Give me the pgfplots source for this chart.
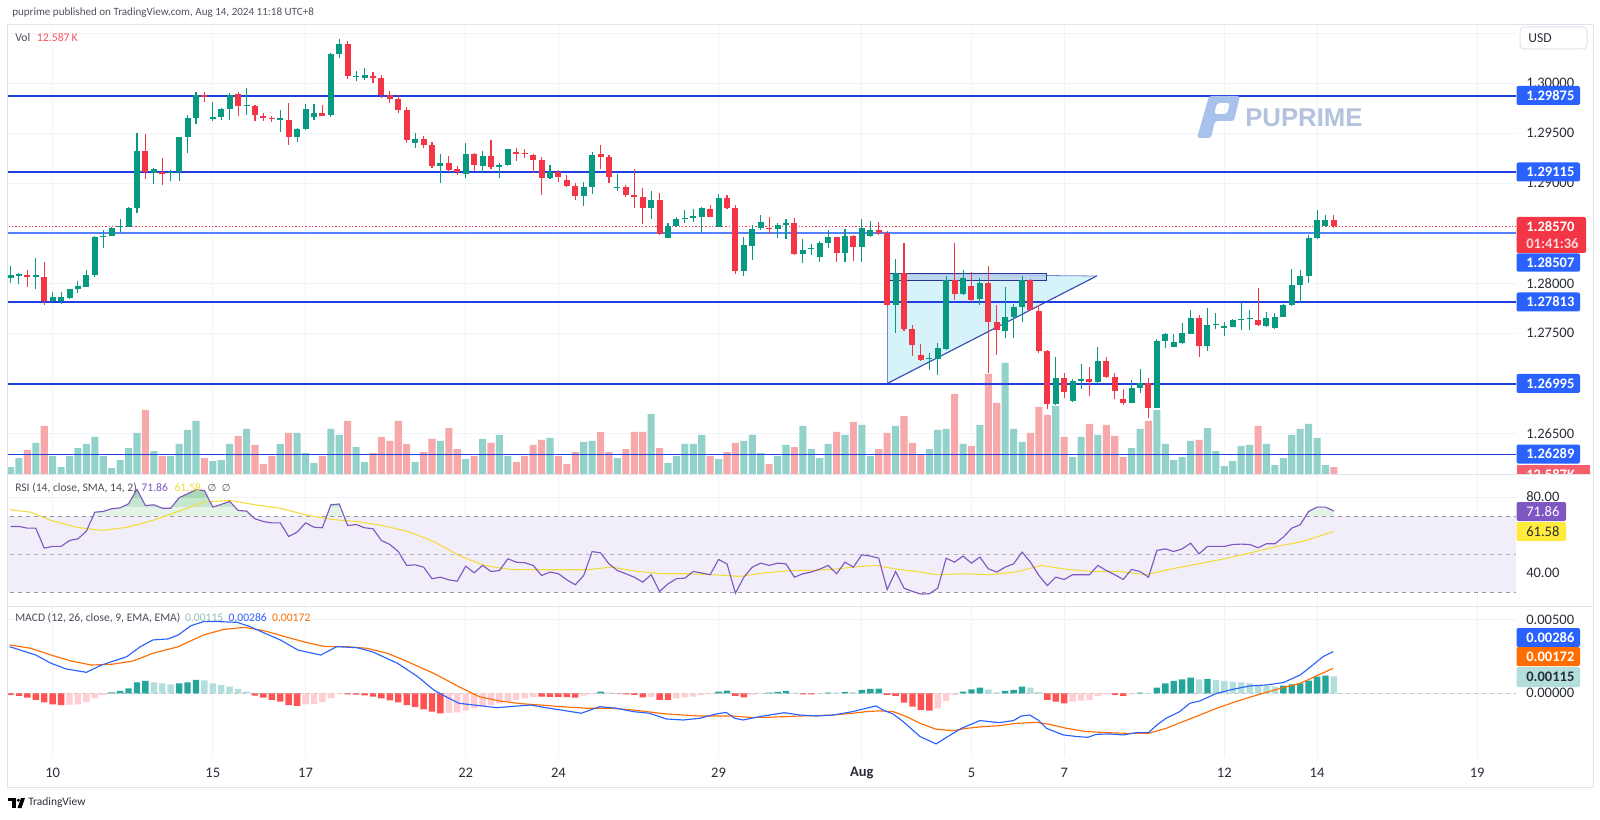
\documentclass[border=0pt]{standalone}
\usepackage{fontspec}
\setmainfont{Carlito}
\newfontfamily\djv{DejaVu Sans}
\newfontfamily\lsans{Liberation Sans}
\usepackage{pgfplots}
\usepackage{pgfplotstable}
\pgfplotsset{compat=1.18}
\newcommand\fs[1]{\fontsize{#1}{#1}\selectfont}

\definecolor{tvgreen}{HTML}{089981}
\definecolor{tvred}{HTML}{F23645}
\definecolor{volg}{HTML}{92D2CA}
\definecolor{volr}{HTML}{F7A8AA}
\definecolor{lvl}{HTML}{1F3FE0}
\definecolor{lblue}{HTML}{2962FF}
\definecolor{gridc}{HTML}{F0F3FA}
\definecolor{framec}{HTML}{E0E3EB}
\definecolor{axc}{HTML}{2A2E39}
\definecolor{legc}{HTML}{4A4E59}
\definecolor{hdrc}{HTML}{50535E}
\definecolor{rsic}{HTML}{7E57C2}
\definecolor{rsiband}{HTML}{F2EEF9}
\definecolor{rsima}{HTML}{F2DC3A}
\definecolor{rsiylw}{HTML}{FFEB3B}
\definecolor{dashc}{HTML}{9598A1}
\definecolor{macdb}{HTML}{2962FF}
\definecolor{macdo}{HTML}{FF6D00}
\definecolor{hg}{HTML}{26A69A}
\definecolor{hl}{HTML}{B2DFDB}
\definecolor{hr}{HTML}{FF5252}
\definecolor{hp}{HTML}{FFCDD2}
\definecolor{tric}{HTML}{D5F3F8}
\definecolor{trie}{HTML}{3F51B5}
\definecolor{rectc}{HTML}{B6CFF0}
\definecolor{rectb}{HTML}{283593}
\definecolor{wm}{HTML}{B3C3DD}
\definecolor{wmlogo}{HTML}{A9C2EC}
\definecolor{ob1}{HTML}{E3F3E7}
\definecolor{ob2}{HTML}{C6E7CF}
\definecolor{ob3}{HTML}{A6D9B4}
\definecolor{volredtxt}{HTML}{F7525F}

% candles: k open high low close
\pgfplotstableread{
k o h l c
-24 1.28050 1.28173 1.28007 1.28083
-23 1.28077 1.28100 1.27993 1.28080
-21 1.28067 1.28250 1.27940 1.28070
-19 1.27827 1.27910 1.27817 1.27867
-18 1.27827 1.27910 1.27793 1.27867
-17 1.27857 1.27947 1.27847 1.27947
-16 1.27943 1.28023 1.27900 1.27973
-15 1.27967 1.28133 1.27960 1.28083
-14 1.28083 1.28473 1.28067 1.28467
-13 1.28460 1.28533 1.28350 1.28477
-12 1.28477 1.28567 1.28473 1.28553
-11 1.28560 1.28643 1.28517 1.28570
-10 1.28567 1.28767 1.28560 1.28757
-9 1.28757 1.29500 1.28700 1.29323
-7 1.29107 1.29153 1.28993 1.29140
-5 1.29100 1.29133 1.29027 1.29117
-4 1.29117 1.29467 1.29027 1.29467
-3 1.29460 1.29683 1.29300 1.29657
-2 1.29653 1.29917 1.29590 1.29883
0 1.29647 1.29817 1.29627 1.29660
1 1.29660 1.29750 1.29633 1.29747
2 1.29747 1.29907 1.29633 1.29883
4 1.29773 1.29957 1.29683 1.29777
8 1.29637 1.29733 1.29517 1.29640
10 1.29467 1.29550 1.29417 1.29547
11 1.29547 1.29793 1.29533 1.29740
12 1.29660 1.29793 1.29633 1.29700
14 1.29680 1.30307 1.29660 1.30293
15 1.30293 1.30445 1.30250 1.30394
17 1.30060 1.30120 1.30020 1.30070
18 1.30050 1.30150 1.30030 1.30080
24 1.29400 1.29500 1.29357 1.29440
27 1.29177 1.29290 1.29007 1.29200
30 1.29090 1.29407 1.29050 1.29290
32 1.29177 1.29323 1.29100 1.29277
34 1.29167 1.29200 1.29057 1.29183
35 1.29183 1.29343 1.29177 1.29340
40 1.29057 1.29183 1.29043 1.29110
44 1.28877 1.29017 1.28777 1.28967
45 1.28967 1.29310 1.28893 1.29283
48 1.28950 1.29093 1.28927 1.28960
52 1.28750 1.28923 1.28640 1.28833
54 1.28457 1.28607 1.28450 1.28573
55 1.28573 1.28667 1.28560 1.28640
56 1.28643 1.28733 1.28600 1.28657
57 1.28657 1.28740 1.28617 1.28667
58 1.28667 1.28760 1.28500 1.28750
60 1.28567 1.28893 1.28560 1.28850
63 1.28127 1.28467 1.28073 1.28383
64 1.28377 1.28583 1.28233 1.28543
65 1.28550 1.28683 1.28533 1.28610
67 1.28540 1.28600 1.28450 1.28583
68 1.28583 1.28640 1.28443 1.28600
70 1.28290 1.28443 1.28200 1.28333
71 1.28340 1.28393 1.28283 1.28350
72 1.28260 1.28427 1.28217 1.28407
73 1.28407 1.28533 1.28357 1.28460
75 1.28300 1.28540 1.28217 1.28473
77 1.28360 1.28640 1.28217 1.28557
78 1.28473 1.28627 1.28467 1.28533
81 1.27783 1.28240 1.27500 1.28100
85 1.27240 1.27300 1.27133 1.27250
86 1.27240 1.27400 1.27083 1.27350
87 1.27343 1.28073 1.27333 1.28033
89 1.27890 1.28133 1.27883 1.28050
91 1.27840 1.28050 1.27783 1.28000
94 1.27527 1.27967 1.27450 1.27667
95 1.27667 1.27790 1.27450 1.27767
96 1.27767 1.28073 1.27610 1.28033
100 1.26790 1.27267 1.26783 1.27050
102 1.26827 1.27040 1.26817 1.27027
103 1.27027 1.27190 1.26943 1.27043
105 1.27017 1.27367 1.26993 1.27227
109 1.26807 1.27033 1.26800 1.26957
110 1.26957 1.27143 1.26907 1.27000
112 1.26757 1.27440 1.26750 1.27427
113 1.27427 1.27500 1.27350 1.27490
114 1.27367 1.27490 1.27360 1.27410
115 1.27400 1.27607 1.27393 1.27500
116 1.27493 1.27733 1.27490 1.27657
118 1.27377 1.27750 1.27323 1.27580
119 1.27583 1.27700 1.27540 1.27587
120 1.27550 1.27617 1.27473 1.27573
121 1.27567 1.27640 1.27567 1.27633
122 1.27633 1.27810 1.27533 1.27640
123 1.27640 1.27733 1.27533 1.27643
125 1.27577 1.27717 1.27567 1.27650
126 1.27550 1.27707 1.27543 1.27667
127 1.27667 1.27790 1.27660 1.27783
128 1.27783 1.28140 1.27773 1.27980
129 1.27980 1.28133 1.27800 1.28073
130 1.28073 1.28483 1.28000 1.28450
131 1.28450 1.28733 1.28443 1.28633
132 1.28573 1.28683 1.28560 1.28633
}\candUp
\pgfplotstableread{
k o h l c
-22 1.28083 1.28133 1.27967 1.28060
-20 1.28067 1.28217 1.27783 1.27827
-8 1.29323 1.29490 1.29043 1.29117
-6 1.29117 1.29250 1.28983 1.29097
-1 1.29877 1.29910 1.29817 1.29867
3 1.29890 1.29917 1.29673 1.29773
5 1.29773 1.29780 1.29627 1.29680
6 1.29673 1.29700 1.29627 1.29653
7 1.29657 1.29673 1.29617 1.29640
9 1.29633 1.29800 1.29383 1.29467
13 1.29700 1.29787 1.29673 1.29677
16 1.30394 1.30420 1.30040 1.30068
19 1.30070 1.30110 1.30000 1.30055
20 1.30050 1.30080 1.29850 1.29884
21 1.29884 1.29920 1.29800 1.29843
22 1.29843 1.29880 1.29700 1.29731
23 1.29731 1.29760 1.29407 1.29433
25 1.29443 1.29473 1.29350 1.29383
26 1.29383 1.29417 1.29157 1.29173
28 1.29200 1.29273 1.29117 1.29133
29 1.29140 1.29173 1.29083 1.29117
31 1.29290 1.29300 1.29123 1.29183
33 1.29277 1.29433 1.29143 1.29167
36 1.29313 1.29350 1.29227 1.29290
37 1.29295 1.29340 1.29250 1.29290
38 1.29283 1.29290 1.29107 1.29233
39 1.29233 1.29260 1.28883 1.29057
41 1.29110 1.29133 1.29017 1.29067
42 1.29033 1.29083 1.28967 1.28973
43 1.28973 1.29000 1.28833 1.28877
46 1.29290 1.29383 1.29140 1.29260
47 1.29260 1.29283 1.29007 1.29067
49 1.28967 1.28983 1.28860 1.28883
50 1.28883 1.29140 1.28750 1.28860
51 1.28860 1.28950 1.28593 1.28750
53 1.28833 1.28907 1.28483 1.28493
59 1.28743 1.28783 1.28667 1.28667
61 1.28850 1.28880 1.28740 1.28757
62 1.28757 1.28783 1.28090 1.28123
66 1.28550 1.28667 1.28490 1.28540
69 1.28600 1.28657 1.28283 1.28290
74 1.28460 1.28467 1.28217 1.28300
76 1.28473 1.28483 1.28227 1.28360
79 1.28533 1.28610 1.28483 1.28500
80 1.28507 1.28523 1.27773 1.27783
82 1.28100 1.28400 1.27527 1.27540
83 1.27540 1.27583 1.27273 1.27383
84 1.27283 1.27393 1.27227 1.27233
88 1.28033 1.28407 1.27833 1.27890
90 1.27973 1.28117 1.27810 1.27833
92 1.28000 1.28173 1.27100 1.27617
93 1.27617 1.27783 1.27283 1.27533
97 1.28033 1.28040 1.27727 1.27733
98 1.27727 1.27783 1.27307 1.27323
99 1.27323 1.27333 1.26740 1.26790
101 1.27050 1.27100 1.26850 1.26917
104 1.27043 1.27160 1.26877 1.27017
106 1.27227 1.27267 1.27057 1.27067
107 1.27067 1.27107 1.26840 1.26927
108 1.26840 1.26943 1.26783 1.26807
111 1.27000 1.27050 1.26657 1.26757
117 1.27657 1.27683 1.27267 1.27377
124 1.27633 1.27950 1.27573 1.27583
133 1.28633 1.28683 1.28553 1.28570
}\candDn

\pgfplotstableread{
k v
-24 7
-23 16
-21 31
-19 18
-18 7
-17 18
-16 26
-15 30
-14 37
-13 18
-12 6
-11 14
-10 26
-9 41
-7 23
-5 18
-4 30
-3 44
-2 53
0 13
1 14
2 30
4 45
8 30
10 41
11 21
12 11
14 45
15 39
17 27
18 12
24 12
27 33
30 15
32 35
34 39
35 18
40 36
44 32
45 33
48 16
52 60
54 11
55 18
56 30
57 30
58 39
60 15
63 33
64 39
65 21
67 18
68 29
70 48
71 25
72 16
73 30
75 39
77 49
78 18
81 48
85 25
86 44
87 45
89 30
91 49
94 111
95 45
96 32
100 68
102 17
103 37
105 39
109 26
110 45
112 64
113 30
114 14
115 17
116 33
118 46
119 23
120 8
121 13
122 28
123 29
125 30
126 9
127 16
128 39
129 45
130 50
131 36
132 9
}\volUp
\pgfplotstableread{
k v
-22 24
-20 48
-8 64
-6 18
-1 16
3 38
5 29
6 10
7 18
9 41
13 18
16 53
19 21
20 37
21 33
22 53
23 30
25 22
26 35
28 46
29 25
31 18
33 31
36 12
37 18
38 29
39 34
41 18
42 10
43 22
46 42
47 22
49 25
50 42
51 42
53 26
59 18
61 22
62 31
66 10
69 27
74 42
76 52
79 25
80 41
82 58
83 31
84 19
88 80
90 28
92 100
93 71
97 41
98 67
99 59
101 37
104 50
106 49
107 38
108 17
111 53
117 34
124 48
133 7
}\volDn

\pgfplotstableread{
k v
-24 64.5
-23 64.5
-22 63.6
-21 63.6
-20 53.1
-19 54.0
-18 54.0
-17 57.1
-16 58.0
-15 62.0
-14 72.0
-13 72.4
-12 73.8
-11 74.3
-10 76.4
-9 84.0
-8 75.5
-7 75.9
-6 74.1
-5 74.1
-4 79.6
-3 81.7
-2 83.8
-1 83.4
0 74.7
1 76.1
2 77.7
3 72.9
4 72.6
5 68.5
6 67.1
7 66.4
8 66.4
9 59.2
10 61.5
11 66.4
12 64.1
13 63.8
14 75.9
15 76.3
16 65.0
17 65.5
18 63.8
19 63.3
20 57.1
21 55.0
22 51.3
23 44.0
24 44.3
25 43.1
26 37.0
27 37.8
28 36.4
29 35.7
30 43.6
31 40.1
32 44.0
33 40.8
34 41.3
35 47.5
36 45.7
37 45.4
38 44.0
39 38.7
40 40.5
41 39.6
42 36.4
43 33.8
44 38.7
45 51.3
46 50.6
47 44.8
48 41.3
49 39.6
50 37.8
51 35.2
52 39.1
53 30.3
54 34.3
55 37.0
56 37.3
57 40.8
58 40.0
59 39.1
60 47.1
61 44.8
62 29.4
63 37.8
64 43.1
65 45.2
66 44.0
67 45.2
68 44.8
69 37.8
70 39.6
71 40.5
72 42.0
73 44.0
74 39.6
75 45.7
76 43.1
77 49.6
78 48.9
79 47.8
80 31.3
81 40.8
82 32.0
83 30.3
84 28.9
85 29.1
86 32.0
87 47.8
88 45.7
89 48.9
90 45.2
91 48.4
92 42.2
93 40.5
94 43.1
95 44.8
96 51.0
97 45.7
98 38.7
99 33.4
100 37.8
101 36.6
102 39.1
103 39.1
104 39.1
105 44.0
106 41.3
107 39.1
108 36.6
109 41.9
110 40.8
111 37.8
112 51.9
113 52.7
114 51.3
115 52.7
116 55.7
117 50.1
118 54.0
119 54.0
120 54.0
121 55.0
122 55.2
123 55.0
124 53.3
125 55.4
126 55.4
127 58.9
128 63.6
129 65.4
130 72.4
131 74.7
132 74.7
133 72.6
}\rsiT

\pgfplotstableread{
k v
-24.1 73.3
-21.6 72.0
-19.2 67.7
-16.2 64.1
-13.2 62.4
-10.1 64.1
-7.1 67.7
-4.1 72.4
-1.1 77.3
2.0 78.2
5.0 75.9
8.0 74.1
11.0 70.6
14.1 68.2
17.1 67.1
20.1 65.0
23.1 61.9
26.2 56.6
29.2 49.2
32.2 44.0
35.2 41.9
38.3 41.7
41.3 41.7
44.3 41.7
47.3 43.1
50.4 40.8
53.4 39.6
56.4 39.6
59.4 39.1
62.5 38.2
65.5 40.1
68.5 41.3
70.4 41.3
73.5 41.9
76.6 43.4
78.7 44.0
80.9 42.2
83.4 40.8
85.9 39.1
89.0 39.6
92.1 39.1
95.2 40.5
98.3 44.0
101.4 41.9
104.5 40.8
107.6 40.8
110.7 39.1
113.8 42.2
116.9 44.8
120.0 47.5
123.1 50.6
126.2 54.0
129.3 56.6
133.0 61.9
}\rsiMA

\pgfplotstableread{
k v
-24.1 0.00318
-21.0 0.00261
-19.2 0.00205
-17.4 0.00166
-15.0 0.00143
-13.2 0.00193
-10.2 0.00250
-8.6 0.00318
-7.1 0.00364
-5.3 0.00371
-4.1 0.00398
-2.6 0.00461
-1.1 0.00489
0.7 0.00489
2.9 0.00484
4.4 0.00455
6.2 0.00409
8.0 0.00364
10.1 0.00295
12.8 0.00261
14.7 0.00318
17.1 0.00311
18.9 0.00284
21.9 0.00205
24.3 0.00114
26.2 0.00023
28.0 -0.00034
29.2 -0.00068
31.0 -0.00080
33.7 -0.00098
35.2 -0.00091
37.7 -0.00080
39.5 -0.00098
41.3 -0.00114
43.7 -0.00136
45.9 -0.00091
47.9 -0.00102
49.9 -0.00125
51.8 -0.00136
53.8 -0.00175
55.8 -0.00182
57.8 -0.00170
59.7 -0.00141
60.9 -0.00130
61.9 -0.00170
62.9 -0.00182
64.9 -0.00159
67.8 -0.00132
69.6 -0.00148
71.6 -0.00155
73.6 -0.00148
75.9 -0.00125
77.5 -0.00102
78.7 -0.00086
79.5 -0.00114
80.7 -0.00141
81.9 -0.00193
83.9 -0.00295
85.8 -0.00345
87.2 -0.00295
88.8 -0.00239
91.0 -0.00186
93.3 -0.00200
95.0 -0.00186
95.9 -0.00155
96.9 -0.00148
97.9 -0.00182
98.9 -0.00239
100.9 -0.00284
102.5 -0.00295
103.8 -0.00300
104.8 -0.00280
106.4 -0.00277
108.0 -0.00284
109.6 -0.00268
111.0 -0.00268
112.0 -0.00216
113.1 -0.00170
114.7 -0.00125
115.9 -0.00068
117.1 -0.00052
119.1 0.00000
121.0 0.00027
123.0 0.00050
125.0 0.00057
127.0 0.00073
129.0 0.00125
130.5 0.00193
131.7 0.00250
132.9 0.00284
}\macdT

\pgfplotstableread{
k v
-24.1 0.00330
-21.6 0.00307
-19.2 0.00261
-16.8 0.00220
-14.4 0.00193
-12.0 0.00198
-9.5 0.00220
-7.1 0.00273
-4.1 0.00318
-1.1 0.00398
1.3 0.00436
3.8 0.00450
6.2 0.00425
8.6 0.00386
11.0 0.00348
13.4 0.00318
15.9 0.00318
18.3 0.00307
20.7 0.00273
23.1 0.00216
26.2 0.00136
29.2 0.00045
31.6 -0.00023
34.0 -0.00052
36.4 -0.00070
38.9 -0.00080
41.3 -0.00091
44.3 -0.00102
47.3 -0.00102
49.9 -0.00114
53.8 -0.00141
57.8 -0.00155
61.7 -0.00155
63.7 -0.00164
65.7 -0.00164
69.6 -0.00155
73.6 -0.00148
75.9 -0.00136
77.5 -0.00125
79.1 -0.00120
80.7 -0.00125
82.3 -0.00159
83.9 -0.00205
85.8 -0.00245
87.8 -0.00255
89.4 -0.00239
91.4 -0.00227
93.3 -0.00221
95.3 -0.00205
97.7 -0.00198
99.3 -0.00212
101.3 -0.00239
103.6 -0.00261
106.0 -0.00268
108.4 -0.00273
111.0 -0.00273
113.1 -0.00239
115.1 -0.00193
117.1 -0.00148
119.1 -0.00102
121.0 -0.00064
123.0 -0.00027
125.0 0.00007
127.0 0.00039
129.0 0.00068
130.9 0.00118
132.9 0.00170
}\sigT

\pgfplotstableread{
k v
-12 0.00007
-11 0.00016
-10 0.00034
-9 0.00075
-8 0.00084
-4 0.00068
-3 0.00075
-2 0.00091
46 0.00011
60 0.00011
61 0.00018
66 0.00005
67 0.00009
68 0.00016
73 0.00005
75 0.00009
77 0.00023
78 0.00030
79 0.00032
89 0.00011
90 0.00027
91 0.00039
94 0.00016
95 0.00023
96 0.00045
110 0.00005
112 0.00039
113 0.00068
114 0.00084
115 0.00095
116 0.00107
118 0.00098
127 0.00052
128 0.00061
129 0.00068
130 0.00086
131 0.00114
132 0.00120
}\hG
\pgfplotstableread{
k v
-7 0.00075
-6 0.00068
-5 0.00061
-1 0.00089
0 0.00068
1 0.00057
2 0.00045
3 0.00030
4 0.00011
47 0.00005
69 0.00005
74 0.00004
76 0.00008
92 0.00027
93 0.00007
97 0.00039
98 0.00009
111 0.00001
117 0.00095
119 0.00091
120 0.00084
121 0.00080
122 0.00075
123 0.00068
124 0.00057
125 0.00050
126 0.00045
133 0.00115
}\hL
\pgfplotstableread{
k v
-24 -0.00011
-23 -0.00018
-22 -0.00030
-21 -0.00045
-20 -0.00061
-19 -0.00075
-18 -0.00080
5 -0.00016
6 -0.00030
7 -0.00045
8 -0.00057
9 -0.00080
10 -0.00086
16 -0.00007
17 -0.00009
18 -0.00014
19 -0.00023
20 -0.00034
21 -0.00048
22 -0.00061
23 -0.00080
24 -0.00095
25 -0.00109
26 -0.00125
27 -0.00136
39 -0.00023
40 -0.00025
41 -0.00025
42 -0.00026
43 -0.00030
48 -0.00002
49 -0.00007
50 -0.00011
51 -0.00027
53 -0.00045
54 -0.00047
62 -0.00018
63 -0.00027
70 -0.00007
71 -0.00008
80 -0.00011
81 -0.00018
82 -0.00064
83 -0.00091
84 -0.00114
85 -0.00118
99 -0.00045
100 -0.00057
101 -0.00068
107 -0.00011
108 -0.00018
}\hR
\pgfplotstableread{
k v
-17 -0.00078
-16 -0.00075
-15 -0.00061
-14 -0.00034
-13 -0.00011
11 -0.00075
12 -0.00073
13 -0.00061
14 -0.00034
15 -0.00005
28 -0.00134
29 -0.00130
30 -0.00118
31 -0.00102
32 -0.00091
33 -0.00080
34 -0.00068
35 -0.00057
36 -0.00045
37 -0.00034
38 -0.00025
44 -0.00016
45 -0.00007
52 -0.00025
55 -0.00034
56 -0.00027
57 -0.00023
58 -0.00011
59 -0.00005
64 -0.00011
65 -0.00002
72 -0.00001
86 -0.00102
87 -0.00052
88 -0.00011
102 -0.00057
103 -0.00050
104 -0.00045
105 -0.00018
106 -0.00007
109 -0.00007
}\hP

\pgfplotsset{
 tvbase/.style={scale only axis, width=1131pt, xmin=-24.3, xmax=154.6,
   axis line style={draw=none}, major tick length=0pt,
   xtick={-19,0,11,30,41,60,77,90,101,120,131,150}, anchor=south west},
 tvgrid/.style={xmajorgrids, ymajorgrids, grid style={draw=gridc, line width=0.75pt}},
 tvright/.style={yticklabel pos=right,
   yticklabel style={anchor=west, inner sep=0pt, xshift=7.5pt, font=\fs{10.9}, text=axc}},
 wick/.style={draw=none, mark=none, forget plot,
   error bars/y dir=plus, error bars/y explicit, error bars/error mark=none,
   error bars/error bar style={draw=#1, line width=0.8pt}},
 cbody/.style={draw=none, mark=none, forget plot,
   error bars/y dir=plus, error bars/y explicit, error bars/error mark=none,
   error bars/error bar style={draw=#1, line width=4.5pt}},
 hbar/.style={ybar, bar width=4.8pt, bar shift=0pt, fill=#1, draw=none},
}

\begin{document}
\begin{tikzpicture}
\fill[white] (0,0) rectangle (1200pt,614.25pt);

% ---------- main pane: grid and price scale
\begin{axis}[tvbase, tvgrid, tvright, at={(6pt,258.75pt)}, height=337.125pt,
  ymin=1.26093, ymax=1.30588, xticklabels={},
  ytick={1.265,1.270,1.275,1.280,1.285,1.290,1.295,1.300,1.305},
  yticklabels={1.26500,{},1.27500,1.28000,{},1.29000,1.29500,1.30000,{}}]
\addplot[draw=none] coordinates {(0,1.28)};
\end{axis}

% ---------- volume
\begin{axis}[tvbase, at={(6pt,258.75pt)}, height=337.125pt, ymin=0, ymax=449.5,
  xtick=\empty, ytick=\empty]
\addplot[ybar, bar width=5.3pt, bar shift=0pt, fill=volg, draw=none] table[x=k,y=v]{\volUp};
\addplot[ybar, bar width=5.3pt, bar shift=0pt, fill=volr, draw=none] table[x=k,y=v]{\volDn};
\end{axis}

% ---------- main pane: drawings and candles
\begin{axis}[tvbase, at={(6pt,258.75pt)}, height=337.125pt,
  ymin=1.26093, ymax=1.30588, xtick=\empty, ytick=\empty]
\addplot[fill=tric, draw=trie!70, line width=0.6pt] coordinates
  {(80.03,1.28093) (104.86,1.28073) (80.03,1.26999) (80.03,1.28093)};
\addplot[fill=rectc, fill opacity=0.8, draw=rectb, line width=0.7pt] coordinates
  {(80.03,1.28033) (98.93,1.28033) (98.93,1.28100) (80.03,1.28100) (80.03,1.28033)};
\addplot[trie, line width=0.8pt] coordinates {(80.03,1.26999) (104.86,1.28073)};
\addplot[lvl, line width=1.15pt] coordinates {(-25,1.29875) (155,1.29875)};
\addplot[lvl, line width=1.15pt] coordinates {(-25,1.29115) (155,1.29115)};
\addplot[lblue!80, line width=1.6pt] coordinates {(-25,1.28507) (155,1.28507)};
\addplot[lvl, line width=1.15pt] coordinates {(-25,1.27813) (155,1.27813)};
\addplot[lvl, line width=1.15pt] coordinates {(-25,1.26995) (155,1.26995)};
\addplot[lvl, line width=1.15pt] coordinates {(-25,1.26289) (155,1.26289)};
\addplot[tvred, line width=0.6pt, dash pattern=on 1pt off 1.5pt] coordinates {(-25,1.2857) (155,1.2857)};
\addplot[wick=tvgreen] table[x=k, y=l, y error plus expr=\thisrow{h}-\thisrow{l}]{\candUp};
\addplot[wick=tvred] table[x=k, y=l, y error plus expr=\thisrow{h}-\thisrow{l}]{\candDn};
\addplot[cbody=tvgreen] table[x=k, y=o, y error plus expr={max(\thisrow{c}-\thisrow{o},0.00012)}]{\candUp};
\addplot[cbody=tvred] table[x=k, y=c, y error plus expr={max(\thisrow{o}-\thisrow{c},0.00012)}]{\candDn};
\end{axis}

% ---------- RSI pane
\begin{axis}[tvbase, tvgrid, tvright, at={(6pt,159.75pt)}, height=99pt,
  ymin=22.632, ymax=92.105, xticklabels={},
  ytick={40,60,80}, yticklabels={40.00,{},80.00}]
\addplot[fill=rsiband, draw=none] coordinates {(-25,30) (155,30) (155,70) (-25,70) (-25,30)};
\addplot[dashc, line width=0.75pt, dash pattern=on 3pt off 3pt] coordinates {(-25,70) (155,70)};
\addplot[dashc!70, line width=0.75pt, dash pattern=on 3pt off 3pt] coordinates {(-25,50) (155,50)};
\addplot[dashc, line width=0.75pt, dash pattern=on 3pt off 3pt] coordinates {(-25,30) (155,30)};
\begin{scope}
\clip (axis cs:-25,70.4) rectangle (axis cs:155,95);
\addplot[fill=ob1, draw=none] table[x=k,y=v]{\rsiT} \closedcycle;
\end{scope}
\begin{scope}
\clip (axis cs:-25,75) rectangle (axis cs:155,95);
\addplot[fill=ob2, draw=none] table[x=k,y=v]{\rsiT} \closedcycle;
\end{scope}
\begin{scope}
\clip (axis cs:-25,79.5) rectangle (axis cs:155,95);
\addplot[fill=ob3, draw=none] table[x=k,y=v]{\rsiT} \closedcycle;
\end{scope}
\addplot[rsima, line width=0.8pt] table[x=k,y=v]{\rsiMA};
\addplot[rsic, line width=0.85pt] table[x=k,y=v]{\rsiT};
\end{axis}

% ---------- MACD pane
\begin{axis}[tvbase, tvgrid, tvright, at={(6pt,46.5pt)}, height=113.25pt,
  ymin=-0.004344, ymax=0.005954, ytick={0,0.005}, yticklabels={0.00000,0.00500},
  scaled y ticks=false,
  xticklabels={10,15,17,22,24,29,\textbf{Aug},5,7,12,14,19},
  xticklabel style={anchor=center, yshift=-12pt, font=\fs{10.9}, text=axc}]
\addplot[dashc!60, line width=0.75pt, dash pattern=on 3pt off 3pt] coordinates {(-25,0) (155,0)};
\addplot[hbar=hg] table[x=k,y=v]{\hG};
\addplot[hbar=hl] table[x=k,y=v]{\hL};
\addplot[hbar=hr] table[x=k,y=v]{\hR};
\addplot[hbar=hp] table[x=k,y=v]{\hP};
\addplot[macdo, line width=0.85pt] table[x=k,y=v]{\sigT};
\addplot[macdb, line width=0.85pt] table[x=k,y=v]{\macdT};
\end{axis}

% ---------- overlays in pixel coordinates (y downwards)
\begin{scope}[x=0.75pt, y=-0.75pt, shift={(0pt,614.25pt)}]
\draw[framec, line width=0.75pt] (7,24.5) rectangle (1593,787);
\draw[framec, line width=0.75pt] (7,474) -- (1593,474);
\draw[framec, line width=0.75pt] (7,606) -- (1593,606);

\node[anchor=west, inner sep=0pt, font=\fs{8.3}, text=hdrc] at (12,12.5)
  {puprime published on TradingView.com, Aug 14, 2024 11:18 UTC+8};
\node[anchor=west, inner sep=0pt, font=\fs{8.8}] at (15,37)
  {\textcolor{legc}{Vol}\hspace{5pt}\textcolor{volredtxt}{12.587\,K}};
\node[anchor=west, inner sep=0pt, font=\fs{8.7}] at (15,488)
  {\textcolor{legc}{RSI (14, close, SMA, 14, 2)}\hspace{3.5pt}\textcolor{rsic}{71.86}\hspace{5pt}\textcolor{rsima}{61.58}\hspace{5pt}\textcolor{legc}{{\djv\fs{7.5}∅\hspace{4pt}∅}}};
\node[anchor=west, inner sep=0pt, font=\fs{8.7}] at (15,618)
  {\textcolor{legc}{MACD (12, 26, close, 9, EMA, EMA)}\hspace{3.5pt}\textcolor{hl!85!black}{0.00115}\hspace{4pt}\textcolor{macdb}{0.00286}\hspace{4pt}\textcolor{macdo}{0.00172}};

% watermark
\fill[wmlogo, even odd rule, rounded corners=2pt]
  (1209,96) -- (1240,96) -- (1234,121) -- (1215,121) -- (1211,138) -- (1197,138) -- cycle
  (1217,103) -- (1230,103) -- (1227,114) -- (1214,114) -- cycle;
\node[anchor=west, inner sep=0pt, font=\lsans\bfseries\fs{19.3}, text=wm] at (1245,118) {PUPRIME};

% USD box
\draw[framec, fill=white, rounded corners=3pt, line width=0.75pt] (1520,27) rectangle (1587,49);
\node[anchor=west, inner sep=0pt, font=\fs{10.2}, text=axc] at (1528,38.5) {USD};

% price scale labels
\fill[lblue, rounded corners=1.5pt] (1516.5,86) rectangle (1580,105);
\node[anchor=west, inner sep=0pt, font=\fs{10.9}\bfseries, text=white] at (1526,95.5) {1.29875};
\fill[lblue, rounded corners=1.5pt] (1516.5,162.5) rectangle (1580,181.5);
\node[anchor=west, inner sep=0pt, font=\fs{10.9}\bfseries, text=white] at (1526,172) {1.29115};
\fill[tvred, rounded corners=1.5pt] (1516.5,217) rectangle (1586,253);
\node[anchor=west, inner sep=0pt, font=\fs{10.9}\bfseries, text=white] at (1526,227) {1.28570};
\node[anchor=west, inner sep=0pt, font=\fs{10.9}\bfseries, text=white!80!tvred] at (1526,244) {01:41:36};
\fill[lblue, rounded corners=1.5pt] (1516.5,253.3) rectangle (1580,271.7);
\node[anchor=west, inner sep=0pt, font=\fs{10.9}\bfseries, text=white] at (1526,262.5) {1.28507};
\fill[lblue, rounded corners=1.5pt] (1516.5,292.5) rectangle (1580,311.5);
\node[anchor=west, inner sep=0pt, font=\fs{10.9}\bfseries, text=white] at (1526,302) {1.27813};
\fill[lblue, rounded corners=1.5pt] (1516.5,374) rectangle (1580,393);
\node[anchor=west, inner sep=0pt, font=\fs{10.9}\bfseries, text=white] at (1526,383.5) {1.26995};
\fill[lblue, rounded corners=1.5pt] (1516.5,444.5) rectangle (1580,463.5);
\node[anchor=west, inner sep=0pt, font=\fs{10.9}\bfseries, text=white] at (1526,454) {1.26289};
\begin{scope}
\clip (1516,464.5) rectangle (1592,473.5);
\fill[tvred!80] (1516.5,464.5) rectangle (1590,484);
\node[anchor=west, inner sep=0pt, font=\fs{10.9}\bfseries, text=white] at (1526,474.5) {12.587K};
\end{scope}

% RSI labels
\fill[rsic, rounded corners=1.5pt] (1516.5,502) rectangle (1566,521);
\node[anchor=west, inner sep=0pt, font=\fs{10.9}, text=white] at (1526,511.5) {71.86};
\fill[rsiylw, rounded corners=1.5pt] (1516.5,522) rectangle (1566,541);
\node[anchor=west, inner sep=0pt, font=\fs{10.9}, text=axc] at (1526,531.5) {61.58};

% MACD labels
\fill[macdb, rounded corners=1.5pt] (1516.5,628) rectangle (1580,647);
\node[anchor=west, inner sep=0pt, font=\fs{10.9}\bfseries, text=white] at (1526,637.5) {0.00286};
\fill[macdo, rounded corners=1.5pt] (1516.5,647) rectangle (1580,666);
\node[anchor=west, inner sep=0pt, font=\fs{10.9}\bfseries, text=white] at (1526,656.5) {0.00172};
\fill[hl, rounded corners=1.5pt] (1516.5,667) rectangle (1580,687);
\node[anchor=west, inner sep=0pt, font=\fs{10.9}\bfseries, text=axc] at (1526,677) {0.00115};

% TradingView logo
\fill[black] (8,798) rectangle (15.5,801.2);
\fill[black] (11.5,798) rectangle (15.5,808);
\fill[black] (18.3,800.2) circle (1.7);
\fill[black] (17.5,808) -- (21,798) -- (25,798) -- (21.5,808) -- cycle;
\node[anchor=west, inner sep=0pt, font=\fs{8.6}, text=axc] at (28,803) {TradingView};
\end{scope}

\pgfresetboundingbox
\path[use as bounding box] (0,0) rectangle (1200pt,614.25pt);
\end{tikzpicture}
\end{document}
